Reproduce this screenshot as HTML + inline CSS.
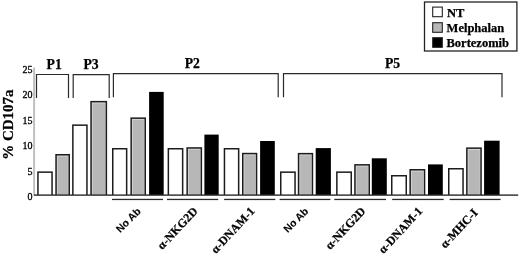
<!DOCTYPE html>
<html><head><meta charset="utf-8"><style>
html,body{margin:0;padding:0;background:#fff;width:520px;height:255px;overflow:hidden}
svg{display:block;font-family:"Liberation Serif",serif;will-change:transform}
text[font-weight="bold"]{stroke:#000;stroke-width:0.25px}
</style></head><body>
<svg width="520" height="255" viewBox="0 0 520 255">
<rect x="33.10" y="67.60" width="2.00" height="128.00" fill="#c0c0c0"/>
<rect x="37.20" y="171.40" width="15.60" height="23.60" fill="#1c1c1c"/>
<rect x="38.70" y="172.90" width="12.60" height="22.10" fill="#fff"/>
<rect x="55.30" y="154.00" width="14.70" height="41.00" fill="#1c1c1c"/>
<rect x="56.80" y="155.50" width="11.70" height="39.50" fill="#d6d6d6"/>
<rect x="57.70" y="156.50" width="10.20" height="38.50" fill="#b7b7b7"/>
<rect x="72.10" y="124.40" width="15.60" height="70.60" fill="#1c1c1c"/>
<rect x="73.60" y="125.90" width="12.60" height="69.10" fill="#fff"/>
<rect x="90.30" y="100.90" width="16.80" height="94.10" fill="#1c1c1c"/>
<rect x="91.80" y="102.40" width="13.80" height="92.60" fill="#d6d6d6"/>
<rect x="92.70" y="103.40" width="12.30" height="91.60" fill="#b7b7b7"/>
<rect x="112.00" y="148.00" width="15.40" height="47.00" fill="#1c1c1c"/>
<rect x="113.50" y="149.50" width="12.40" height="45.50" fill="#fff"/>
<rect x="130.40" y="117.40" width="15.60" height="77.60" fill="#1c1c1c"/>
<rect x="131.90" y="118.90" width="12.60" height="76.10" fill="#d6d6d6"/>
<rect x="132.80" y="119.90" width="11.10" height="75.10" fill="#b7b7b7"/>
<rect x="149.10" y="91.90" width="14.60" height="103.10" fill="#000"/>
<rect x="167.60" y="148.00" width="15.80" height="47.00" fill="#1c1c1c"/>
<rect x="169.10" y="149.50" width="12.80" height="45.50" fill="#fff"/>
<rect x="186.40" y="147.20" width="15.70" height="47.80" fill="#1c1c1c"/>
<rect x="187.90" y="148.70" width="12.70" height="46.30" fill="#d6d6d6"/>
<rect x="188.80" y="149.70" width="11.20" height="45.30" fill="#b7b7b7"/>
<rect x="204.40" y="134.60" width="14.30" height="60.40" fill="#000"/>
<rect x="223.70" y="148.00" width="15.70" height="47.00" fill="#1c1c1c"/>
<rect x="225.20" y="149.50" width="12.70" height="45.50" fill="#fff"/>
<rect x="242.00" y="152.80" width="15.30" height="42.20" fill="#1c1c1c"/>
<rect x="243.50" y="154.30" width="12.30" height="40.70" fill="#d6d6d6"/>
<rect x="244.40" y="155.30" width="10.80" height="39.70" fill="#b7b7b7"/>
<rect x="260.10" y="141.00" width="14.70" height="54.00" fill="#000"/>
<rect x="280.00" y="171.40" width="15.80" height="23.60" fill="#1c1c1c"/>
<rect x="281.50" y="172.90" width="12.80" height="22.10" fill="#fff"/>
<rect x="297.80" y="152.90" width="15.40" height="42.10" fill="#1c1c1c"/>
<rect x="299.30" y="154.40" width="12.40" height="40.60" fill="#d6d6d6"/>
<rect x="300.20" y="155.40" width="10.90" height="39.60" fill="#b7b7b7"/>
<rect x="315.70" y="148.10" width="15.20" height="46.90" fill="#000"/>
<rect x="336.10" y="171.40" width="15.90" height="23.60" fill="#1c1c1c"/>
<rect x="337.60" y="172.90" width="12.90" height="22.10" fill="#fff"/>
<rect x="354.20" y="164.10" width="15.80" height="30.90" fill="#1c1c1c"/>
<rect x="355.70" y="165.60" width="12.80" height="29.40" fill="#d6d6d6"/>
<rect x="356.60" y="166.60" width="11.30" height="28.40" fill="#b7b7b7"/>
<rect x="371.80" y="158.30" width="15.00" height="36.70" fill="#000"/>
<rect x="391.00" y="175.00" width="16.00" height="20.00" fill="#1c1c1c"/>
<rect x="392.50" y="176.50" width="13.00" height="18.50" fill="#fff"/>
<rect x="409.40" y="169.00" width="15.90" height="26.00" fill="#1c1c1c"/>
<rect x="410.90" y="170.50" width="12.90" height="24.50" fill="#d6d6d6"/>
<rect x="411.80" y="171.50" width="11.40" height="23.50" fill="#b7b7b7"/>
<rect x="428.00" y="164.40" width="14.80" height="30.60" fill="#000"/>
<rect x="448.00" y="168.00" width="15.80" height="27.00" fill="#1c1c1c"/>
<rect x="449.50" y="169.50" width="12.80" height="25.50" fill="#fff"/>
<rect x="466.10" y="147.40" width="15.70" height="47.60" fill="#1c1c1c"/>
<rect x="467.60" y="148.90" width="12.70" height="46.10" fill="#d6d6d6"/>
<rect x="468.50" y="149.90" width="11.20" height="45.10" fill="#b7b7b7"/>
<rect x="484.10" y="140.70" width="15.50" height="54.30" fill="#000"/>
<rect x="34.00" y="194.40" width="484.20" height="1.40" fill="#2a2a2a"/>
<rect x="112.00" y="198.80" width="51.00" height="1.30" fill="#2a2a2a"/>
<rect x="167.00" y="198.80" width="51.20" height="1.30" fill="#2a2a2a"/>
<rect x="224.10" y="198.80" width="51.20" height="1.30" fill="#2a2a2a"/>
<rect x="279.60" y="198.80" width="50.80" height="1.30" fill="#2a2a2a"/>
<rect x="334.30" y="198.80" width="51.70" height="1.30" fill="#2a2a2a"/>
<rect x="392.20" y="198.80" width="51.50" height="1.30" fill="#2a2a2a"/>
<rect x="449.60" y="198.80" width="51.00" height="1.30" fill="#2a2a2a"/>
<path d="M36.50 98.00V74.50H68.50V98.00" fill="none" stroke="#2a2a2a" stroke-width="1.2"/>
<path d="M73.20 98.00V74.60H109.20V98.00" fill="none" stroke="#2a2a2a" stroke-width="1.2"/>
<path d="M113.40 97.30V73.60H278.20V97.30" fill="none" stroke="#2a2a2a" stroke-width="1.2"/>
<path d="M283.50 97.30V73.60H502.00V97.30" fill="none" stroke="#2a2a2a" stroke-width="1.2"/>
<text x="54.20" y="68.80" font-size="13.7" font-weight="bold" text-anchor="middle" >P1</text>
<text x="91.10" y="68.80" font-size="13.7" font-weight="bold" text-anchor="middle" >P3</text>
<text x="192.30" y="68.00" font-size="13.7" font-weight="bold" text-anchor="middle" >P2</text>
<text x="392.50" y="68.00" font-size="13.7" font-weight="bold" text-anchor="middle" >P5</text>
<text x="32.60" y="72.50" font-size="10" font-weight="normal" text-anchor="end" stroke="#000" stroke-width="0.3">25</text>
<text x="32.60" y="97.80" font-size="10" font-weight="normal" text-anchor="end" stroke="#000" stroke-width="0.3">20</text>
<text x="32.60" y="123.50" font-size="10" font-weight="normal" text-anchor="end" stroke="#000" stroke-width="0.3">15</text>
<text x="32.60" y="149.10" font-size="10" font-weight="normal" text-anchor="end" stroke="#000" stroke-width="0.3">10</text>
<text x="32.60" y="174.80" font-size="10" font-weight="normal" text-anchor="end" stroke="#000" stroke-width="0.3">5</text>
<text x="32.60" y="200.20" font-size="10" font-weight="normal" text-anchor="end" stroke="#000" stroke-width="0.3">0</text>
<text x="0" y="0" font-size="15" font-weight="bold" text-anchor="middle" transform="translate(12.5,124.6) rotate(-90)">% CD107a</text>
<rect x="424.5" y="2.0" width="92.4" height="49.0" fill="#fff" stroke="#222" stroke-width="1.3"/>
<rect x="432.7" y="7.10" width="9.6" height="9.6" fill="#fff" stroke="#222" stroke-width="1.1"/>
<rect x="432.7" y="22.70" width="9.6" height="9.6" fill="#b7b7b7" stroke="#222" stroke-width="1.1"/>
<rect x="432.7" y="37.70" width="9.6" height="9.6" fill="#000" stroke="#222" stroke-width="1.1"/>
<text x="446.90" y="16.60" font-size="12.5" font-weight="bold" text-anchor="start" >NT</text>
<text x="446.60" y="32.00" font-size="12.5" font-weight="bold" text-anchor="start" >Melphalan</text>
<text x="446.50" y="47.00" font-size="12.5" font-weight="bold" text-anchor="start" >Bortezomib</text>
<text x="0" y="0" font-family="Liberation Sans" font-size="10.4" font-weight="bold" style="stroke-width:0.1px" text-anchor="end" transform="translate(141.60,212.00) rotate(-45)">No Ab</text>
<text x="0" y="0" font-size="12" font-weight="bold" text-anchor="end" transform="translate(198.30,211.70) rotate(-47)">&#945;-NKG2D</text>
<text x="0" y="0" font-size="12" font-weight="bold" text-anchor="end" transform="translate(255.45,211.70) rotate(-47)">&#945;-DNAM-1</text>
<text x="0" y="0" font-family="Liberation Sans" font-size="10.4" font-weight="bold" style="stroke-width:0.1px" text-anchor="end" transform="translate(309.10,212.00) rotate(-45)">No Ab</text>
<text x="0" y="0" font-size="12" font-weight="bold" text-anchor="end" transform="translate(366.20,211.70) rotate(-47)">&#945;-NKG2D</text>
<text x="0" y="0" font-size="12" font-weight="bold" text-anchor="end" transform="translate(423.15,211.70) rotate(-47)">&#945;-DNAM-1</text>
<text x="0" y="0" font-size="12" font-weight="bold" text-anchor="end" transform="translate(478.35,213.30) rotate(-47)">&#945;-MHC-I</text>
</svg>
</body></html>
